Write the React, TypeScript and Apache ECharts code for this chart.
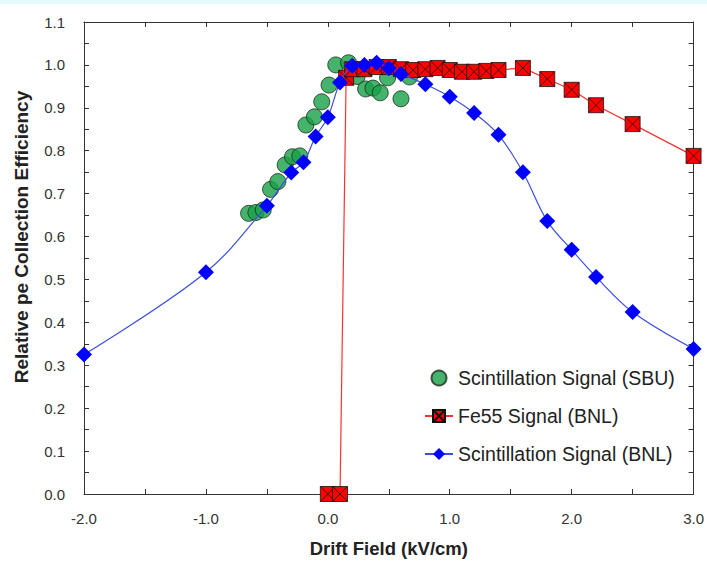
import React, { useEffect, useRef } from "react";
import * as echarts from "echarts";

const sbuX = [-0.65, -0.59, -0.53, -0.47, -0.41, -0.35, -0.29, -0.23, -0.18, -0.11, -0.05, 0.01, 0.065, 0.17, 0.24, 0.31, 0.37, 0.43, 0.49, 0.6, 0.67];
const sbuY = [0.654, 0.656, 0.662, 0.71, 0.728, 0.767, 0.786, 0.788, 0.86, 0.879, 0.914, 0.953, 1.0, 1.005, 0.973, 0.944, 0.946, 0.935, 0.97, 0.921, 0.972];

const fe55X = [0, 0.1, 0.15, 0.2, 0.3, 0.4, 0.5, 0.6, 0.7, 0.8, 0.9, 1.0, 1.1, 1.2, 1.3, 1.4, 1.6, 1.8, 2.0, 2.2, 2.5, 3.0];
const fe55Y = [0, 0, 0.97, 0.99, 0.99, 0.995, 0.995, 0.99, 0.988, 0.99, 0.993, 0.988, 0.984, 0.984, 0.986, 0.988, 0.993, 0.967, 0.942, 0.906, 0.862, 0.788];

const bnlX = [-2.0, -1.0, -0.5, -0.3, -0.2, -0.1, 0, 0.1, 0.2, 0.3, 0.4, 0.5, 0.6, 0.8, 1.0, 1.2, 1.4, 1.6, 1.8, 2.0, 2.2, 2.5, 3.0];
const bnlY = [0.325, 0.517, 0.672, 0.749, 0.773, 0.833, 0.878, 0.959, 0.998, 1.0, 1.005, 0.992, 0.979, 0.955, 0.926, 0.888, 0.837, 0.75, 0.636, 0.569, 0.506, 0.424, 0.338];

const seriesNames = ["Scintillation Signal (SBU)", "Fe55 Signal (BNL)", "Scintillation Signal (BNL)"];
const xAxisName = "Drift Field (kV/cm)";
const yAxisName = "Relative pe Collection Efficiency";

const zip = (xs: number[], ys: number[]) => xs.map((x, i) => [x, ys[i]]);

const FONT = "Liberation Sans, Arial, Helvetica, sans-serif";

export default function App() {
  const ref = useRef<HTMLDivElement>(null);
  useEffect(() => {
    if (!ref.current) return;
    const chart = echarts.init(ref.current, undefined, { renderer: "svg" });
    const axisLine = { show: true, onZero: false, lineStyle: { color: "#333", width: 1 } };
    const tick = { show: true, inside: true, length: 5, lineStyle: { color: "#333" } };
    const minor = { show: true, splitNumber: 2, length: 5, lineStyle: { color: "#333" } };
    chart.setOption({
      animation: false,
      backgroundColor: "#ffffff",
      graphic: [
        { type: "rect", shape: { x: 0, y: 0, width: 707, height: 4 }, style: { fill: "#e4fbfb" } },
        {
          type: "text",
          x: 21,
          y: 237,
          rotation: Math.PI / 2,
          style: {
            text: yAxisName,
            font: `bold 19px ${FONT}`,
            fill: "#222",
            textAlign: "center",
            textVerticalAlign: "middle",
            align: "center",
            verticalAlign: "middle",
          },
        },
      ],
      grid: { left: 84, right: 12, top: 22, bottom: 69, containLabel: false },
      legend: {
        orient: "vertical",
        left: 419,
        top: 363,
        itemGap: 18,
        itemWidth: 28,
        itemHeight: 15,
        textStyle: { fontSize: 19.5, color: "#222", fontFamily: FONT },
        data: seriesNames,
      },
      xAxis: [
        {
          type: "value",
          min: -2,
          max: 3,
          interval: 1,
          name: xAxisName,
          nameLocation: "middle",
          nameGap: 45,
          nameTextStyle: { fontSize: 18.5, fontWeight: "bold", color: "#222", fontFamily: FONT },
          axisLine,
          axisTick: tick,
          minorTick: minor,
          splitLine: { show: false },
          minorSplitLine: { show: false },
          axisLabel: { fontSize: 15, color: "#333", margin: 17, fontFamily: FONT, formatter: (v: number) => v.toFixed(1) },
        },
        {
          type: "value",
          position: "top",
          min: -2,
          max: 3,
          interval: 1,
          axisLine,
          axisTick: tick,
          minorTick: minor,
          splitLine: { show: false },
          axisLabel: { show: false },
        },
      ],
      yAxis: [
        {
          type: "value",
          min: 0,
          max: 1.1,
          interval: 0.1,
          axisLine,
          axisTick: tick,
          minorTick: minor,
          splitLine: { show: false },
          axisLabel: { fontSize: 15, color: "#333", margin: 19, fontFamily: FONT, formatter: (v: number) => v.toFixed(1) },
        },
        {
          type: "value",
          position: "right",
          min: 0,
          max: 1.1,
          interval: 0.1,
          axisLine,
          axisTick: tick,
          minorTick: minor,
          splitLine: { show: false },
          axisLabel: { show: false },
        },
      ],
      series: [
        {
          name: seriesNames[2],
          type: "line",
          data: zip(bnlX, bnlY),
          smooth: 0.35,
          symbol: "diamond",
          symbolSize: 16,
          z: 4,
          lineStyle: { color: "#3a4ee0", width: 1.2 },
          itemStyle: { color: "#0000ff" },
        },
        {
          name: seriesNames[1],
          type: "line",
          data: zip(fe55X, fe55Y),
          symbol: "path://M0,0H10V10H0ZM0,0L10,10M10,0L0,10",
          symbolSize: 15,
          z: 3,
          lineStyle: { color: "#ff3030", width: 1.2 },
          itemStyle: { color: "#ff0000", borderColor: "#111", borderWidth: 0.8 },
        },
        {
          name: seriesNames[0],
          type: "scatter",
          data: zip(sbuX, sbuY),
          symbol: "circle",
          symbolSize: 16,
          z: 2,
          itemStyle: { color: "#17a047", borderColor: "#1b2e1b", borderWidth: 1 },
        },
      ],
    });
    return () => chart.dispose();
  }, []);
  return (
    <div
      ref={ref}
      style={{ position: "fixed", left: 0, top: 0, width: 707, height: 563, background: "#fff" }}
    />
  );
}
